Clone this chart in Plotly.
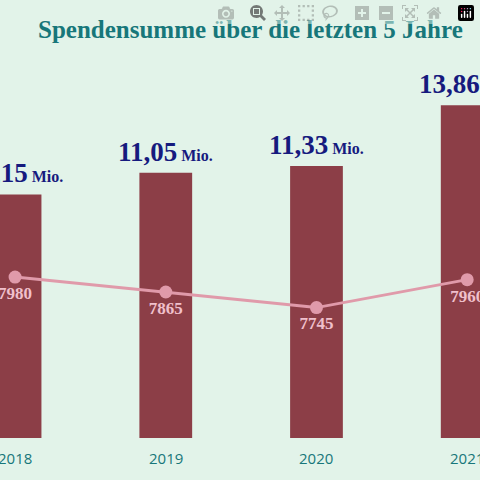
import plotly.graph_objects as go

years = [2018, 2019, 2020, 2021]
year_labels = ["2018", "2019", "2020", "2021"]
sums_mio = [10.15, 11.05, 11.33, 13.86]
sum_labels = ["10,15", "11,05", "11,33", "13,86"]
donors = [7980, 7865, 7745, 7960]

bar_color = "#8c3e47"
line_color = "#e09aaa"
bg = "#e2f3e9"
teal = "#17777a"
navy = "#161a7e"
serif = "Liberation Serif"

fig = go.Figure()
fig.add_trace(go.Bar(x=years, y=sums_mio, width=0.35,
                     marker=dict(color=bar_color, line_width=0), hoverinfo="skip"))
fig.add_trace(go.Scatter(x=years, y=donors, yaxis="y2", mode="lines+markers+text",
                         line=dict(color=line_color, width=3),
                         marker=dict(color=line_color, size=13),
                         text=["<b>%d</b>" % d for d in donors], textposition="bottom center",
                         cliponaxis=False,
                         textfont=dict(family=serif, size=17, color="#f0c0cc")))

for yr, v, lab in zip(years, sums_mio, sum_labels):
    fig.add_annotation(x=yr, y=v, yanchor="bottom", yshift=4, showarrow=False,
                       text="<b>%s</b><b><span style='font-size:16px'> Mio.</span></b>" % lab,
                       font=dict(family=serif, size=27, color=navy))

for yr, lab in zip(years, year_labels):
    fig.add_annotation(x=yr, y=0, yanchor="top", yshift=-8, showarrow=False,
                       text=lab, font=dict(family="Open Sans", size=15, color=teal))

fig.add_annotation(xref="paper", yref="paper", x=465 / 480, xanchor="right",
                   y=1, yanchor="top", yshift=-14, showarrow=False,
                   text="<b>Spendensumme über die letzten 5 Jahre</b>",
                   font=dict(family=serif, size=25, color=teal))

fig.update_layout(
    width=480, height=480, margin=dict(l=0, r=0, t=0, b=42),
    paper_bgcolor=bg, plot_bgcolor=bg, showlegend=False,
    xaxis=dict(range=[2017.9, 2021.085], showticklabels=False, showgrid=False,
               zeroline=False, showline=False),
    yaxis=dict(range=[0, 18.25], visible=False),
    yaxis2=dict(range=[6742, 10111], overlaying="y", visible=False),
)

fig.write_html("out.html", post_script="document.body.style.margin='0';")
